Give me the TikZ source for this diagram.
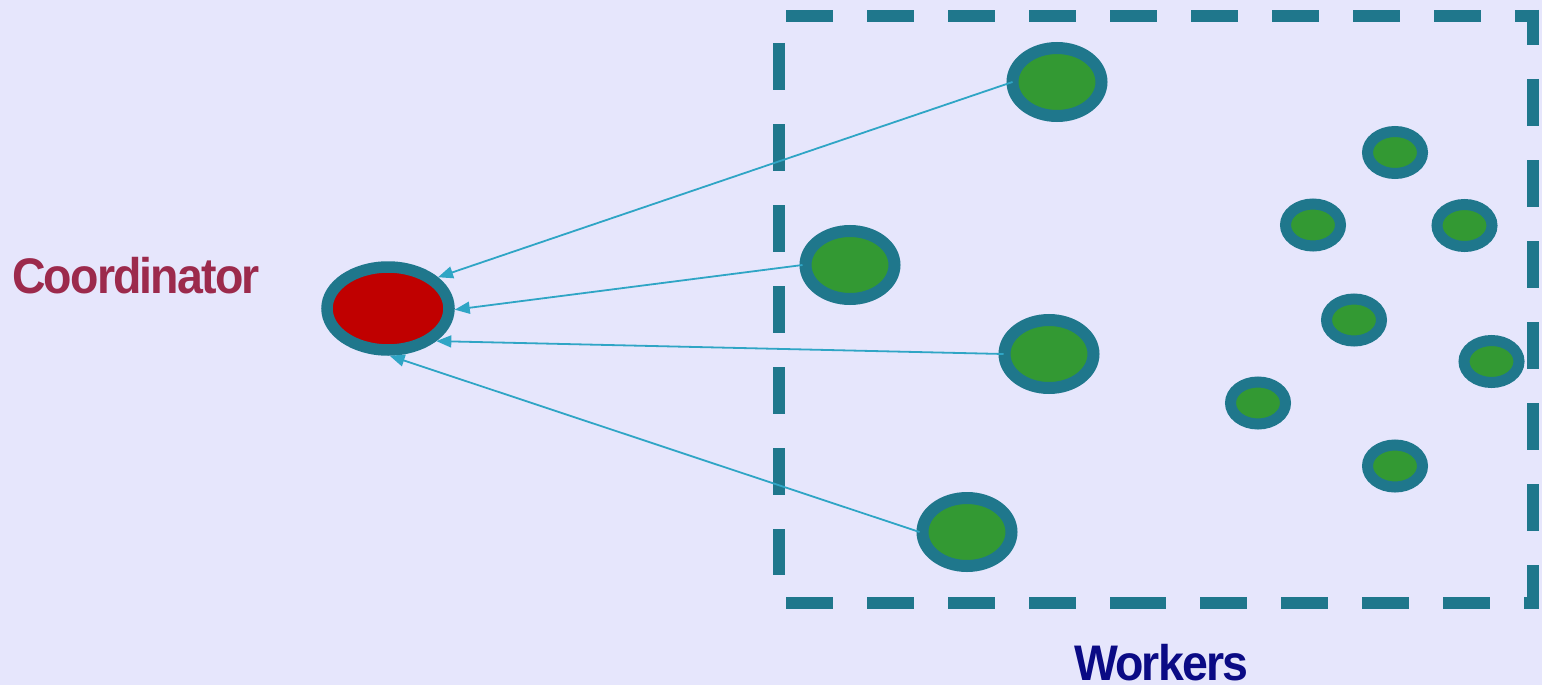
\documentclass[tikz,border=0pt]{standalone}
\usepackage{fontspec}
\setmainfont{Liberation Sans}
\usetikzlibrary{arrows.meta,shapes.geometric}
\definecolor{bgcol}{HTML}{E6E6FC}
\definecolor{ringcol}{HTML}{1F778C}
\definecolor{workcol}{HTML}{339933}
\definecolor{coordcol}{HTML}{C00000}
\definecolor{linkcol}{HTML}{2FA5C5}
\definecolor{coordtext}{HTML}{9C2A4C}
\definecolor{worktext}{HTML}{0B0B85}
\begin{document}
\begin{tikzpicture}[x=1pt,y=-1pt,
  bigworker/.style={ellipse,draw=ringcol,fill=workcol,line width=12pt,
    minimum width=89pt,minimum height=68pt,inner sep=0pt},
  smallworker/.style={ellipse,draw=ringcol,fill=workcol,line width=11pt,
    minimum width=55pt,minimum height=42pt,inner sep=0pt},
  master/.style={ellipse,draw=ringcol,fill=coordcol,line width=11.5pt,
    minimum width=122pt,minimum height=83pt,inner sep=0pt},
  boxedge/.style={draw=ringcol,line width=12pt,dash pattern=on 47pt off 34pt},
  link/.style={draw=linkcol,line width=1.8pt,-{Triangle[length=15pt,width=12pt]}},
  title/.style={inner sep=0pt,anchor=base west,
    font=\fontsize{50}{60}\selectfont\bfseries\addfontfeature{LetterSpace=-4}}
]
% background and page size
\fill[bgcol] (0,0) rectangle (1542,685);
\useasboundingbox (0,0) rectangle (1542,685);

% dashed frame around the worker pool
\path[boxedge] (786,16) -- (1539,16);
\path[boxedge] (779,43) -- (779,575);
\path[boxedge,dash phase=12pt] (1533,10) -- (1533,609);
\path[boxedge] (786,603) -- (1160,603);
\path[boxedge] (1119,603) -- (1539,603);

% labels
\node[title,text=coordtext] (lblC) at (12,293) {\scalebox{0.93}[1]{Coordinator}};
\node[title,text=worktext] (lblW) at (1074,680) {\scalebox{0.93}[1]{Workers}};

% coordinator
\node[master] (coord) at (388,308.5) {};

% active workers
\node[bigworker] (w1) at (1057,82) {};
\node[bigworker] (w2) at (850,265) {};
\node[bigworker] (w3) at (1049,354) {};
\node[bigworker] (w4) at (967,532) {};

% idle workers
\node[smallworker] (s1) at (1395,152.5) {};
\node[smallworker] (s2) at (1313,225) {};
\node[smallworker] (s3) at (1464.5,225.5) {};
\node[smallworker] (s4) at (1354,320) {};
\node[smallworker] (s5) at (1491.5,361.5) {};
\node[smallworker] (s6) at (1258,403) {};
\node[smallworker] (s7) at (1395,466) {};

% results sent back to the coordinator
\draw[link] ([xshift=6pt]w1.west) -- (coord.32);
\draw[link] ([xshift=3pt]w2.west) -- (coord.-1);
\draw[link] ([xshift=5pt]w3.west) -- (coord.-34);
\draw[link] ([xshift=3pt]w4.west) -- (coord.-88);
\end{tikzpicture}
\end{document}
